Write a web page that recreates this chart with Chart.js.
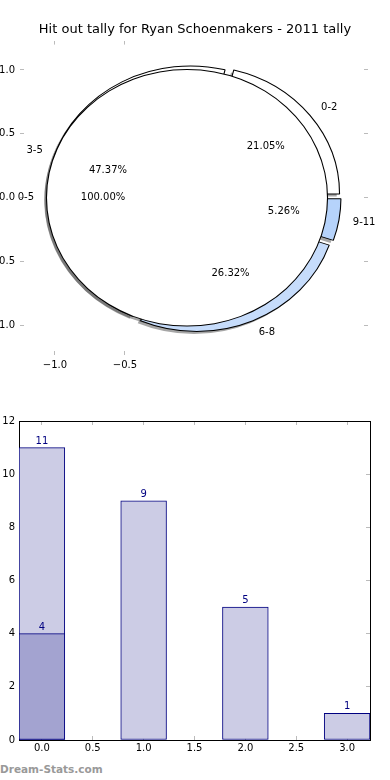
<!DOCTYPE html>
<html>
<head>
<meta charset="utf-8">
<title>Hit out tally for Ryan Schoenmakers - 2011 tally</title>
<script src="https://cdn.jsdelivr.net/npm/chart.js@4.4.0/dist/chart.umd.min.js"></script>
<style>
  html, body { margin: 0; padding: 0; background: #fff; }
  #page { position: relative; width: 390px; height: 780px; overflow: hidden; }
  #pieBox { position: absolute; left: -20px; top: 0; width: 430px; height: 380px; }
  #barBox { position: absolute; left: 0; top: 400px; width: 390px; height: 360px; }
  #mark { position: absolute; left: 0; top: 763px; font: bold 10.5px "DejaVu Sans"; color: #999; }
</style>
</head>
<body>
<div id="page">
  <div id="pieBox"><canvas id="pie"></canvas></div>
  <div id="barBox"><canvas id="bars"></canvas></div>
  <div id="mark">Dream-Stats.com</div>
</div>
<script>
// pie: outer ring by game range, plus the single 0-5 slice on top
const ringLabels = ['0-2', '3-5', '6-8', '9-11'];
const ringValues = [4, 9, 5, 1];
const ringColors = ['#ffffff', '#ffffff', '#c6dcfb', '#b6d3fb'];
const innerLabels = ['0-5'];
const innerValues = [19];
const pieXTicks = [-1.0, -0.5];
const pieYTicks = [1.0, 0.5, 0.0, -0.5, -1.0];

// bars
const barX = [0, 1, 2, 3];
const barTotals = [11, 9, 5, 1];
const barSubX = [0];
const barSub = [4];
const barXTicks = [0, 0.5, 1, 1.5, 2, 2.5, 3];
const barYTicks = [0, 2, 4, 6, 8, 10, 12];

const EXPLODE = 0.05; // in radii, like matplotlib
const SHADOW = 0.02;
const INNER = 1;      // dataset index of the 0-5 pie
const BAR_WIDTH = 0.45; // in x units

Chart.defaults.font.family = 'DejaVu Sans';
Chart.defaults.font.size = 10;
Chart.defaults.color = '#000';

const rev = a => a.slice().reverse(); // chart.js goes clockwise, matplotlib the other way
const ringTotal = ringValues.reduce((a, b) => a + b, 0);
const fixedTicks = list => s => { s.ticks = list.map(v => ({value: v})); };
const label1 = v => Number(v).toFixed(1).replace('-', '\u2212');

function pieGeom(chart) {
  const x = chart.scales && chart.scales.x, y = chart.scales && chart.scales.y, a = chart.chartArea;
  if (!a || !x || !y || !y.height) return {R: 100, sx: 1, cx: 0, cy: 0};
  const R = y.getPixelForValue(0) - y.getPixelForValue(1);
  return {
    R: R,
    sx: (x.getPixelForValue(1) - x.getPixelForValue(0)) / R,
    cx: (a.left + a.right) / 2,
    cy: (a.top + a.bottom) / 2
  };
}

// pie axes are not square, so stretch the circle into the ellipse
function squash(ctx, g) {
  ctx.translate(g.cx, g.cy);
  ctx.scale(g.sx, 1);
  ctx.translate(-g.cx, -g.cy);
}

function paintAs(ctx, arc, opts, grow) {
  const keep = arc.options, r = arc.outerRadius;
  arc.options = Object.assign({}, keep, opts);
  arc.outerRadius = r + (grow || 0);
  arc.draw(ctx);
  arc.options = keep;
  arc.outerRadius = r;
}

const pieLook = {
  id: 'pieLook',
  beforeDatasetsDraw(chart) {
    const ctx = chart.ctx, g = pieGeom(chart);
    // shadows first, behind every wedge
    chart.data.datasets.forEach((ds, di) => {
      ctx.save();
      ctx.translate(-SHADOW * g.R * g.sx, SHADOW * g.R);
      squash(ctx, g);
      if (di === INNER) ctx.translate(-EXPLODE * g.R, 0);
      chart.getDatasetMeta(di).data.forEach(arc =>
        paintAs(ctx, arc, {backgroundColor: 'rgba(77,77,77,0.5)', borderWidth: 0}));
      ctx.restore();
    });
    ctx.save();
    squash(ctx, g);
  },
  beforeDatasetDraw(chart, args) {
    if (args.index !== INNER) return;
    const ctx = chart.ctx, g = pieGeom(chart);
    ctx.save();
    ctx.translate(-EXPLODE * g.R, 0);
    // black disk a pixel wider = outline without the radial seam
    args.meta.data.forEach(arc => paintAs(ctx, arc, {backgroundColor: '#000', borderWidth: 0}, 1));
  },
  afterDatasetDraw(chart, args) {
    if (args.index === INNER) chart.ctx.restore();
  },
  afterDatasetsDraw(chart) {
    const ctx = chart.ctx, g = pieGeom(chart);
    ctx.restore();
    ctx.save();
    ctx.font = '10px "DejaVu Sans"';
    ctx.fillStyle = '#000';
    ctx.textBaseline = 'middle';
    chart.data.datasets.forEach((ds, di) => {
      const total = ds.data.reduce((a, b) => a + b, 0);
      chart.getDatasetMeta(di).data.forEach((arc, i) => {
        const mid = (arc.startAngle + arc.endAngle) / 2;
        const c = Math.cos(mid), s = Math.sin(mid);
        const at = d => {
          const r = (EXPLODE + d) * g.R;
          return [arc.x + g.sx * r * c, arc.y + r * s];
        };
        let p = at(1.1);
        ctx.textAlign = c > 0 ? 'left' : 'right';
        ctx.fillText(ds.names[i], p[0] + (c > 0 ? 0 : 1), p[1]);
        p = at(0.6);
        ctx.textAlign = 'center';
        ctx.fillText((100 * ds.data[i] / total).toFixed(2) + '%', p[0], p[1]);
      });
    });
    ctx.restore();
  }
};

const tickGrid = {display: true, drawOnChartArea: false, drawTicks: true, tickLength: -4, color: '#bbbbbb'};

const pie = new Chart(document.getElementById('pie'), {
  type: 'pie',
  data: {
    labels: rev(ringLabels),
    datasets: [
      {
        names: rev(ringLabels),
        data: rev(ringValues),
        backgroundColor: rev(ringColors),
        borderColor: '#000',
        borderWidth: 1,
        rotation: 90,
        clip: false,
        order: 1,
        radius: c => pieGeom(c.chart).R,
        offset: c => {
          const a = 2 * Math.PI * c.raw / ringTotal;
          const fix = 1 - Math.sin(Math.min(Math.PI, a));
          return 4 * EXPLODE * pieGeom(c.chart).R / (1 + fix);
        }
      },
      {
        names: innerLabels,
        data: innerValues,
        backgroundColor: '#ffffff',
        borderWidth: 0,
        rotation: 90,
        clip: false,
        order: 0,
        radius: c => 2 * pieGeom(c.chart).R
      }
    ]
  },
  options: {
    responsive: true,
    maintainAspectRatio: false,
    animation: false,
    devicePixelRatio: 1,
    layout: {padding: 0},
    plugins: {
      legend: {display: false},
      tooltip: {enabled: false},
      title: {
        display: true,
        text: 'Hit out tally for Ryan Schoenmakers - 2011 tally',
        color: '#000',
        font: {size: 13, weight: 'normal'},
        padding: {top: 22, bottom: 0}
      }
    },
    scales: {
      x: {
        type: 'linear', position: 'bottom', min: -1.25, max: 1.236,
        afterBuildTicks: fixedTicks(pieXTicks),
        afterFit: s => { s.height = 25; },
        ticks: {padding: 8, autoSkip: false, maxRotation: 0, callback: label1},
        grid: tickGrid, border: {display: false}
      },
      x2: {
        type: 'linear', position: 'top', min: -1.25, max: 1.236,
        afterBuildTicks: fixedTicks(pieXTicks),
        afterFit: s => { s.height = 3; },
        ticks: {display: false},
        grid: tickGrid, border: {display: false}
      },
      y: {
        type: 'linear', position: 'left', min: -1.23, max: 1.23,
        afterBuildTicks: fixedTicks(pieYTicks),
        afterFit: s => { s.width = 40; },
        ticks: {padding: 9, autoSkip: false, callback: label1},
        grid: tickGrid, border: {display: false}
      },
      y2: {
        type: 'linear', position: 'right', min: -1.23, max: 1.23,
        afterBuildTicks: fixedTicks(pieYTicks),
        afterFit: s => { s.width = 42; },
        ticks: {display: false},
        grid: tickGrid, border: {display: false}
      }
    }
  },
  plugins: [pieLook]
});
pie.update(); // radius/offset depend on the laid-out scales

const barTops = {
  id: 'barTops',
  afterDatasetsDraw(chart) {
    const ctx = chart.ctx;
    ctx.save();
    ctx.font = '10px "DejaVu Sans"';
    ctx.fillStyle = '#000080';
    ctx.textAlign = 'center';
    ctx.textBaseline = 'alphabetic';
    chart.data.datasets.forEach((ds, di) => {
      chart.getDatasetMeta(di).data.forEach((bar, i) => {
        ctx.fillText(String(ds.data[i].y), bar.x, bar.y - 4);
      });
    });
    ctx.restore();
  }
};

// bar width in x units, turned into pixels by the x scale
const barPx = c => {
  const x = c.chart.scales && c.chart.scales.x;
  if (!x || !x.width) return 10;
  return BAR_WIDTH * (x.getPixelForValue(1) - x.getPixelForValue(0));
};

const frame = {display: true, color: '#000', width: 1};

const bars = new Chart(document.getElementById('bars'), {
  type: 'bar',
  data: {
    datasets: [
      {
        data: barSubX.map((x, i) => ({x: x, y: barSub[i]})),
        backgroundColor: '#a3a3d0',
        borderColor: '#000080',
        borderWidth: 1,
        borderSkipped: false,
        grouped: false,
        barThickness: barPx,
        xAxisID: 'x', yAxisID: 'y',
        order: 0
      },
      {
        data: barX.map((x, i) => ({x: x, y: barTotals[i]})),
        backgroundColor: '#ccccE5',
        borderColor: '#000080',
        borderWidth: 1,
        borderSkipped: false,
        grouped: false,
        barThickness: barPx,
        xAxisID: 'x', yAxisID: 'y',
        order: 1
      }
    ]
  },
  options: {
    responsive: true,
    maintainAspectRatio: false,
    animation: false,
    devicePixelRatio: 1,
    layout: {padding: 0},
    plugins: {legend: {display: false}, tooltip: {enabled: false}},
    scales: {
      x: {
        type: 'linear', position: 'bottom', min: -0.225, max: 3.225, offset: false,
        afterBuildTicks: fixedTicks(barXTicks),
        afterFit: s => { s.height = 20; },
        ticks: {padding: 6, autoSkip: false, maxRotation: 0, callback: label1},
        grid: Object.assign({}, tickGrid, {offset: false}), border: frame
      },
      x2: {
        type: 'linear', position: 'top', min: -0.225, max: 3.225, offset: false,
        afterBuildTicks: fixedTicks(barXTicks),
        afterFit: s => { s.height = 21; },
        ticks: {display: false},
        grid: Object.assign({}, tickGrid, {offset: false}), border: frame
      },
      y: {
        type: 'linear', position: 'left', min: 0, max: 12,
        afterBuildTicks: fixedTicks(barYTicks),
        afterFit: s => { s.width = 19; },
        ticks: {padding: 8, autoSkip: false},
        grid: tickGrid, border: frame
      },
      y2: {
        type: 'linear', position: 'right', min: 0, max: 12,
        afterBuildTicks: fixedTicks(barYTicks),
        afterFit: s => { s.width = 20; },
        ticks: {display: false},
        grid: tickGrid, border: frame
      }
    }
  },
  plugins: [barTops]
});
bars.update(); // bar width follows the laid-out x scale
</script>
</body>
</html>
